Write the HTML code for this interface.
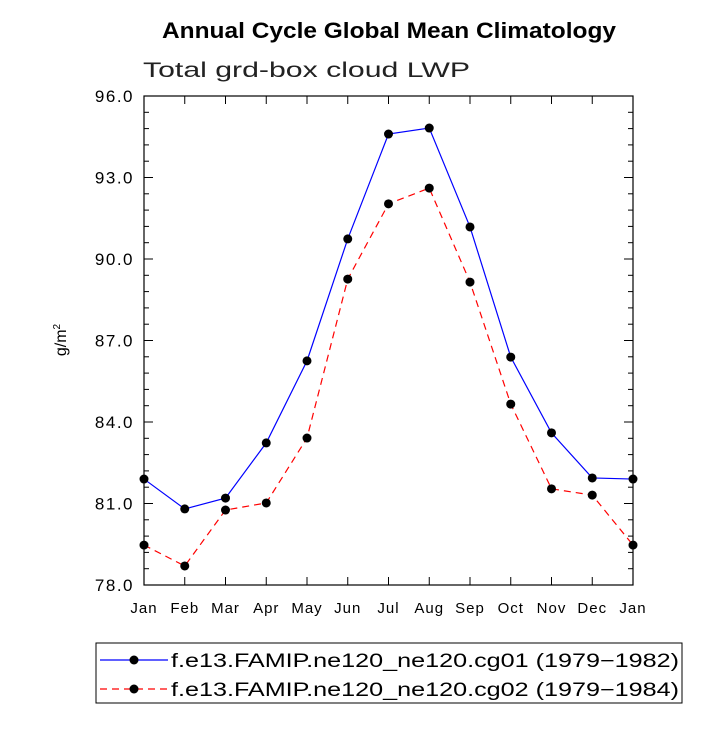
<!DOCTYPE html>
<html><head><meta charset="utf-8"><style>
body{margin:0;background:#fff;}
svg text{font-family:"Liberation Sans",sans-serif;}
</style></head><body>
<svg id="chart" width="727" height="727">
<text x="162" y="38" textLength="454" lengthAdjust="spacingAndGlyphs" font-size="22" font-weight="bold">Annual Cycle Global Mean Climatology</text>
<text x="143" y="77" textLength="327" lengthAdjust="spacingAndGlyphs" font-size="21" fill="#222">Total grd-box cloud LWP</text>
<text transform="translate(66,340) rotate(-90)" text-anchor="middle" font-size="16">g/m<tspan font-size="10" dy="-6">2</tspan></text>
<g id="axes"></g>
<g id="series"></g>
<rect x="96" y="643" width="586" height="60" fill="none" stroke="#000" stroke-width="1"/>
<g>
<line x1="100" y1="660" x2="168" y2="660" stroke="blue" stroke-width="1.2"/>
<circle cx="134" cy="660" r="4.5" fill="#000"/>
<text x="171" y="667" textLength="508" lengthAdjust="spacingAndGlyphs" font-size="19">f.e13.FAMIP.ne120_ne120.cg01 (1979−1982)</text>
</g>
<g>
<line x1="100" y1="689" x2="168" y2="689" stroke="red" stroke-width="1.2" stroke-dasharray="7,5"/>
<circle cx="134" cy="689" r="4.5" fill="#000"/>
<text x="171" y="696" textLength="508" lengthAdjust="spacingAndGlyphs" font-size="19">f.e13.FAMIP.ne120_ne120.cg02 (1979−1984)</text>
</g>
</svg>
<script>
const months=["Jan","Feb","Mar","Apr","May","Jun","Jul","Aug","Sep","Oct","Nov","Dec","Jan"];
const cg01=[81.90,80.80,81.20,83.23,86.25,90.74,94.60,94.82,91.18,86.39,83.60,81.94,81.90];
const cg02=[79.47,78.70,80.76,81.02,83.41,89.26,92.03,92.61,89.15,84.66,81.54,81.31,79.47];
const yTicks=[78,81,84,87,90,93,96];
const X0=144,X1=633,Y0=585,Y1=96,YMIN=78,YMAX=96;
const xs=i=>X0+(X1-X0)*i/(months.length-1);
const ys=v=>Y0-(v-YMIN)/(YMAX-YMIN)*(Y0-Y1);
const NS="http://www.w3.org/2000/svg";
function mk(t,a,p){const e=document.createElementNS(NS,t);for(const k in a)e.setAttribute(k,a[k]);p.appendChild(e);return e;}
const ax=document.getElementById('axes');
const fr=mk('rect',{x:X0,y:Y1,width:X1-X0,height:Y0-Y1,fill:'none',stroke:'#000','stroke-width':1.2},ax);


months.forEach((m,i)=>{const x=xs(i);
mk('line',{x1:x,y1:Y0,x2:x,y2:Y0-8,stroke:'#000'},ax);
mk('line',{x1:x,y1:Y1,x2:x,y2:Y1+8,stroke:'#000'},ax);
const t=mk('text',{x:x,y:Y0+28,'text-anchor':'middle','font-size':15,'letter-spacing':1},ax);t.textContent=m;

});
for(let v=YMIN;v<=YMAX+1e-6;v+=0.6){const y=ys(v);const major=yTicks.some(t=>Math.abs(t-v)<1e-6);const L=major?9:5;
mk('line',{x1:X0,y1:y,x2:X0+L,y2:y,stroke:'#000'},ax);
mk('line',{x1:X1,y1:y,x2:X1-L,y2:y,stroke:'#000'},ax);}
yTicks.forEach(v=>{const t=mk('text',{x:X0-10,y:ys(v)+6,'text-anchor':'end','font-size':17,'letter-spacing':1.5},ax);t.textContent=v.toFixed(1);

});
const sg=document.getElementById('series');
function draw(data,color,dash,name){
const g=mk('g',{},sg);


mk('polyline',{points:data.map((v,i)=>xs(i)+','+ys(v)).join(' '),fill:'none',stroke:color,'stroke-width':1.2,'stroke-dasharray':dash},g);
data.forEach((v,i)=>{const c=mk('circle',{cx:xs(i),cy:ys(v),r:4.5,fill:'#000'},g);

});}
draw(cg01,'blue','none','series-cg01');
draw(cg02,'red','7,5','series-cg02');
</script>
</body></html>
